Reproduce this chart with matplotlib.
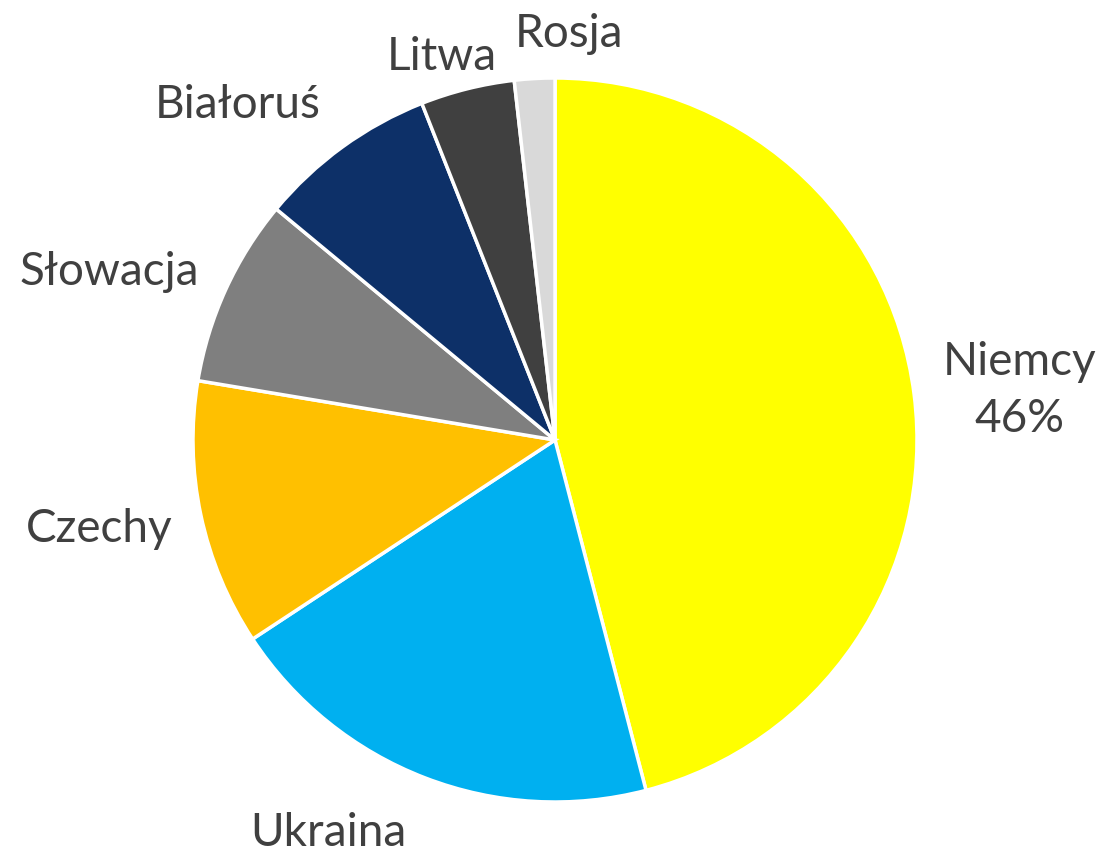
import numpy as np
import matplotlib
matplotlib.use("Agg")
import matplotlib.pyplot as plt

countries = ["Niemcy", "Ukraina", "Czechy", "Słowacja", "Białoruś", "Litwa", "Rosja"]
shares = [46.0, 19.8, 11.9, 8.4, 8.0, 4.2, 1.8]
labels = ["Niemcy\n46%", "Ukraina", "Czechy", "Słowacja", "Białoruś", "Litwa", "Rosja"]
colors = ["#FFFF00", "#00B0F0", "#FFC000", "#7F7F7F", "#0D3068", "#404040", "#D9D9D9"]

plt.rcParams['font.family'] = ['Lato', 'DejaVu Sans']

fig = plt.figure(figsize=(11.1, 8.55), dpi=100)
W, H = 1110, 855
cx, cy, r = 555, 440, 362
ax = fig.add_axes([(cx - r) / W, (H - cy - r) / H, 2 * r / W, 2 * r / H])
wedges, _ = ax.pie(shares, colors=colors, startangle=90, counterclock=False,
                   wedgeprops=dict(edgecolor="white", linewidth=2.5), radius=1.0)
ax.set_xlim(-1, 1)
ax.set_ylim(-1, 1)
ax.set_aspect("equal")
ax.axis("off")

# label placement: (distance, ha, va, dx, dy) per label (layout only)
place = [
    (1.08, "left", "center", 0.0, 0.0),
    (1.10, "center", "top", -0.23, 0.0),
    (1.07, "right", "center", -0.01, -0.025),
    (1.07, "right", "center", -0.01, 0.02),
    (1.07, "right", "center", -0.02, 0.06),
    (1.03, "right", "bottom", 0.09, 0.0),
    (1.065, "left", "bottom", -0.05, 0.0),
]

for w, lab, (d, ha, va, dx, dy) in zip(wedges, labels, place):
    ang = np.deg2rad((w.theta1 + w.theta2) / 2)
    c, s = np.cos(ang), np.sin(ang)
    x, y = d * c + dx, d * s + dy
    ax.text(x, y, lab, ha=ha, va=va, fontsize=33, color="#404040",
            fontweight="normal", linespacing=1.45, multialignment="center",
            clip_on=False)

fig.savefig("out.png", dpi=100, facecolor="white")
